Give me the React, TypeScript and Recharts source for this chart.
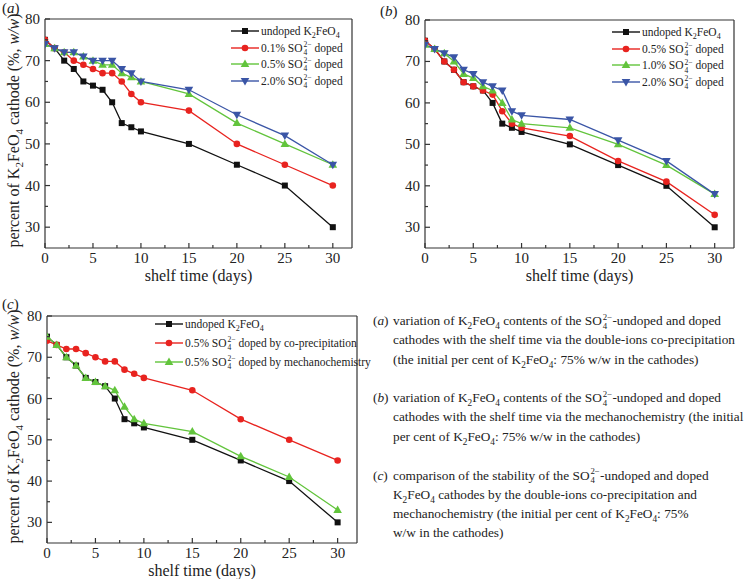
import React from "react";
import { LineChart, Line, XAxis, YAxis, ReferenceLine, Label } from "recharts";

const days = [0, 1, 2, 3, 4, 5, 6, 7, 8, 9, 10, 15, 20, 25, 30];
const undoped = [75, 73, 70, 68, 65, 64, 63, 60, 55, 54, 53, 50, 45, 40, 30];
const coPrecip01 = [75, 73, 72, 70, 69, 68, 67, 67, 65, 62, 60, 58, 50, 45, 40];
const coPrecip05 = [74, 73, 72, 72, 71, 70, 69, 69, 67, 66, 65, 62, 55, 50, 45];
const coPrecip20 = [74, 73, 72, 72, 71, 70, 70, 70, 68, 67, 65, 63, 57, 52, 45];
const mechano05 = [75, 73, 70, 68, 65, 64, 63, 62, 58, 55, 54, 52, 46, 41, 33];
const mechano10 = [74, 73, 72, 70, 67, 66, 64, 63, 60, 56, 55, 54, 50, 45, 38];
const mechano20 = [74, 73, 72, 71, 68, 67, 65, 64, 63, 58, 57, 56, 51, 46, 38];

const xTicks = [0, 2.5, 5, 7.5, 10, 12.5, 15, 17.5, 20, 22.5, 25, 27.5, 30];
const yTicks = [30, 35, 40, 45, 50, 55, 60, 65, 70, 75, 80];

const FONT = "'Liberation Serif', 'DejaVu Serif', serif";
const BLACK = "#111";
const RED = "#e8231f";
const GREEN = "#62c43c";
const BLUE = "#3a55a6";

type Series = { key: string; values: number[]; color: string; shape: string };

const Marker = ({ cx, cy, color, shape }: any) => {
  if (cx == null || cy == null) return null;
  if (shape === "square") return <rect x={cx - 3} y={cy - 3} width={6} height={6} fill={color} />;
  if (shape === "circle") return <circle cx={cx} cy={cy} r={3.3} fill={color} />;
  if (shape === "up")
    return <polygon points={`${cx},${cy - 4.5} ${cx - 4.3},${cy + 3} ${cx + 4.3},${cy + 3}`} fill={color} />;
  return <polygon points={`${cx},${cy + 4.5} ${cx - 4.3},${cy - 3} ${cx + 4.3},${cy - 3}`} fill={color} />;
};

const svgText = { fontFamily: FONT };

const XTick = ({ x, y, payload }: any) => {
  const major = payload.value % 5 === 0;
  return (
    <g>
      <line x1={x} x2={x} y1={y} y2={y - (major ? 5 : 3)} stroke="#333" strokeWidth={1.2} />
      {major && (
        <text x={x} y={y + 15} textAnchor="middle" fontSize={15} style={svgText} fill="#222">
          {payload.value}
        </text>
      )}
    </g>
  );
};

const YTick = ({ x, y, payload }: any) => {
  const major = payload.value % 10 === 0;
  return (
    <g>
      <line x1={x} x2={x + (major ? 5 : 3)} y1={y} y2={y} stroke="#333" strokeWidth={1.2} />
      {major && (
        <text x={x - 5} y={y + 5} textAnchor="end" fontSize={15} style={svgText} fill="#222">
          {payload.value}
        </text>
      )}
    </g>
  );
};

const Sulfate = () => (
  <span>
    SO
    <span style={{ position: "relative", display: "inline-block", width: "0.8em", height: 0 }}>
      <span style={{ position: "absolute", left: 1, top: "-1.4em", fontSize: "0.66em", lineHeight: 1 }}>2−</span>
      <span style={{ position: "absolute", left: 1, top: "-0.35em", fontSize: "0.66em", lineHeight: 1 }}>4</span>
    </span>
  </span>
);

const Ferrate = () => (
  <span>
    K<sub style={{ fontSize: "0.7em", lineHeight: 0 }}>2</sub>FeO<sub style={{ fontSize: "0.7em", lineHeight: 0 }}>4</sub>
  </span>
);

type LegendItem = { color: string; shape: string; label: React.ReactNode };

const LegendBox = ({ items, left, top, gap }: { items: LegendItem[]; left: number; top: number; gap: number }) => (
  <div style={{ position: "absolute", left, top, fontFamily: FONT, fontSize: 11.5, color: "#222" }}>
    {items.map((it, i) => (
      <div
        key={i}
        style={{
          position: "absolute",
          top: i * gap - 8,
          left: 0,
          whiteSpace: "nowrap",
          height: 16,
          display: "flex",
          alignItems: "center",
        }}
      >
        <svg width={28} height={16} style={{ marginRight: 2 }}>
          <line x1={0} x2={28} y1={8} y2={8} stroke={it.color} strokeWidth={1.4} />
          <Marker cx={14} cy={8} color={it.color} shape={it.shape} />
        </svg>
        <span>{it.label}</span>
      </div>
    ))}
  </div>
);

type PanelProps = {
  left: number;
  top: number;
  width: number;
  height: number;
  plot: { l: number; t: number; r: number; b: number };
  series: Series[];
  yLabel: boolean;
};

const Panel = ({ left, top, width, height, plot, series, yLabel }: PanelProps) => {
  const rows = days.map((d, i) => {
    const row: any = { day: d };
    series.forEach((s) => (row[s.key] = s.values[i]));
    return row;
  });
  return (
    <div style={{ position: "absolute", left, top }}>
      <LineChart
        width={width}
        height={height}
        data={rows}
        margin={{ top: plot.t, right: width - plot.r, bottom: 0, left: 0 }}
      >
        <XAxis
          dataKey="day"
          type="number"
          domain={[0, 32]}
          ticks={xTicks}
          interval={0}
          tick={<XTick />}
          tickLine={false}
          tickSize={0}
          tickMargin={0}
          height={height - plot.b}
          axisLine={{ stroke: "#333", strokeWidth: 1.2 }}
          allowDataOverflow
        >
          <Label
            content={({ viewBox }: any) => (
              <text
                x={viewBox.x + viewBox.width / 2}
                y={viewBox.y + 33}
                textAnchor="middle"
                fontSize={16}
                style={svgText}
                fill="#222"
              >
                shelf time (days)
              </text>
            )}
          />
        </XAxis>
        <YAxis
          type="number"
          domain={[25, 80]}
          ticks={yTicks}
          interval={0}
          tick={<YTick />}
          tickLine={false}
          tickSize={0}
          tickMargin={0}
          width={plot.l}
          axisLine={{ stroke: "#333", strokeWidth: 1.2 }}
          allowDataOverflow
        >
          {yLabel && (
            <Label
              content={({ viewBox }: any) => {
                const cx = 19;
                const cy = viewBox.y + viewBox.height / 2 - 3;
                return (
                  <text
                    x={cx}
                    y={cy}
                    transform={`rotate(-90, ${cx}, ${cy})`}
                    textAnchor="middle"
                    fontSize={16}
                    style={svgText}
                    fill="#222"
                  >
                    percent of K
                    <tspan dy={4} fontSize={11}>2</tspan>
                    <tspan dy={-4}>FeO</tspan>
                    <tspan dy={4} fontSize={11}>4</tspan>
                    <tspan dy={-4}> cathode (%, </tspan>
                    <tspan fontStyle="italic">w/w</tspan>
                    <tspan>)</tspan>
                  </text>
                );
              }}
            />
          )}
        </YAxis>
        <ReferenceLine y={80} stroke="#333" strokeWidth={1.2} />
        <ReferenceLine x={32} stroke="#333" strokeWidth={1.2} />
        {series.map((s) => (
          <Line
            key={s.key}
            dataKey={s.key}
            stroke={s.color}
            strokeWidth={1.3}
            isAnimationActive={false}
            dot={(p: any) => <Marker key={p.index} cx={p.cx} cy={p.cy} color={s.color} shape={s.shape} />}
          />
        ))}
      </LineChart>
    </div>
  );
};

const seriesA: Series[] = [
  { key: "undoped", values: undoped, color: BLACK, shape: "square" },
  { key: "d01", values: coPrecip01, color: RED, shape: "circle" },
  { key: "d05", values: coPrecip05, color: GREEN, shape: "up" },
  { key: "d20", values: coPrecip20, color: BLUE, shape: "down" },
];
const seriesB: Series[] = [
  { key: "undoped", values: undoped, color: BLACK, shape: "square" },
  { key: "d05", values: mechano05, color: RED, shape: "circle" },
  { key: "d10", values: mechano10, color: GREEN, shape: "up" },
  { key: "d20", values: mechano20, color: BLUE, shape: "down" },
];
const seriesC: Series[] = [
  { key: "undoped", values: undoped, color: BLACK, shape: "square" },
  { key: "co", values: coPrecip05, color: RED, shape: "circle" },
  { key: "mech", values: mechano05, color: GREEN, shape: "up" },
];

const PanelTag = ({ left, top, text }: { left: number; top: number; text: string }) => (
  <div style={{ position: "absolute", left, top, fontFamily: FONT, fontSize: 15, color: "#222" }}>
    (<i>{text}</i>)
  </div>
);

const captionStyle: React.CSSProperties = {
  position: "absolute",
  left: 373,
  fontFamily: FONT,
  fontSize: 13.3,
  lineHeight: "19.3px",
  color: "#222",
  whiteSpace: "nowrap",
};
const indent: React.CSSProperties = { paddingLeft: 20 };
const Tag = ({ t }: { t: string }) => (
  <span style={{ display: "inline-block", width: 20 }}>
    (<i>{t}</i>)
  </span>
);

export default function App() {
  return (
    <div style={{ position: "absolute", left: 0, top: 0, width: 744, height: 579, background: "#fff" }}>
      <Panel left={0} top={0} width={372} height={290} plot={{ l: 45, t: 19, r: 352, b: 248 }} series={seriesA} yLabel />
      <Panel left={372} top={0} width={372} height={290} plot={{ l: 53, t: 20, r: 362, b: 248 }} series={seriesB} yLabel={false} />
      <Panel left={0} top={290} width={372} height={289} plot={{ l: 47, t: 26, r: 357, b: 253 }} series={seriesC} yLabel />

      <PanelTag left={2} top={0} text="a" />
      <PanelTag left={380} top={3} text="b" />
      <PanelTag left={2} top={296} text="c" />

      <LegendBox
        left={231}
        top={31}
        gap={16.5}
        items={[
          { color: BLACK, shape: "square", label: <>undoped <Ferrate /></> },
          { color: RED, shape: "circle", label: <>0.1% <Sulfate /> doped</> },
          { color: GREEN, shape: "up", label: <>0.5% <Sulfate /> doped</> },
          { color: BLUE, shape: "down", label: <>2.0% <Sulfate /> doped</> },
        ]}
      />
      <LegendBox
        left={612}
        top={32}
        gap={16.7}
        items={[
          { color: BLACK, shape: "square", label: <>undoped <Ferrate /></> },
          { color: RED, shape: "circle", label: <>0.5% <Sulfate /> doped</> },
          { color: GREEN, shape: "up", label: <>1.0% <Sulfate /> doped</> },
          { color: BLUE, shape: "down", label: <>2.0% <Sulfate /> doped</> },
        ]}
      />
      <LegendBox
        left={155}
        top={324}
        gap={19}
        items={[
          { color: BLACK, shape: "square", label: <>undoped <Ferrate /></> },
          { color: RED, shape: "circle", label: <>0.5% <Sulfate /> doped by co-precipitation</> },
          { color: GREEN, shape: "up", label: <>0.5% <Sulfate /> doped by mechanochemistry</> },
        ]}
      />

      <div style={{ ...captionStyle, top: 311 }}>
        <div>
          <Tag t="a" />variation of <Ferrate /> contents of the <Sulfate />-undoped and doped
        </div>
        <div style={indent}>cathodes with the shelf time via the double-ions co-precipitation</div>
        <div style={indent}>
          (the initial per cent of <Ferrate />: 75% w/w in the cathodes)
        </div>
      </div>
      <div style={{ ...captionStyle, top: 388 }}>
        <div>
          <Tag t="b" />variation of <Ferrate /> contents of the <Sulfate />-undoped and doped
        </div>
        <div style={indent}>cathodes with the shelf time via the mechanochemistry (the initial</div>
        <div style={indent}>
          per cent of <Ferrate />: 75% w/w in the cathodes)
        </div>
      </div>
      <div style={{ ...captionStyle, top: 465.5 }}>
        <div>
          <Tag t="c" />comparison of the stability of the <Sulfate />-undoped and doped
        </div>
        <div style={indent}>
          <Ferrate /> cathodes by the double-ions co-precipitation and
        </div>
        <div style={indent}>
          mechanochemistry (the initial per cent of <Ferrate />: 75%
        </div>
        <div style={indent}>w/w in the cathodes)</div>
      </div>
    </div>
  );
}
